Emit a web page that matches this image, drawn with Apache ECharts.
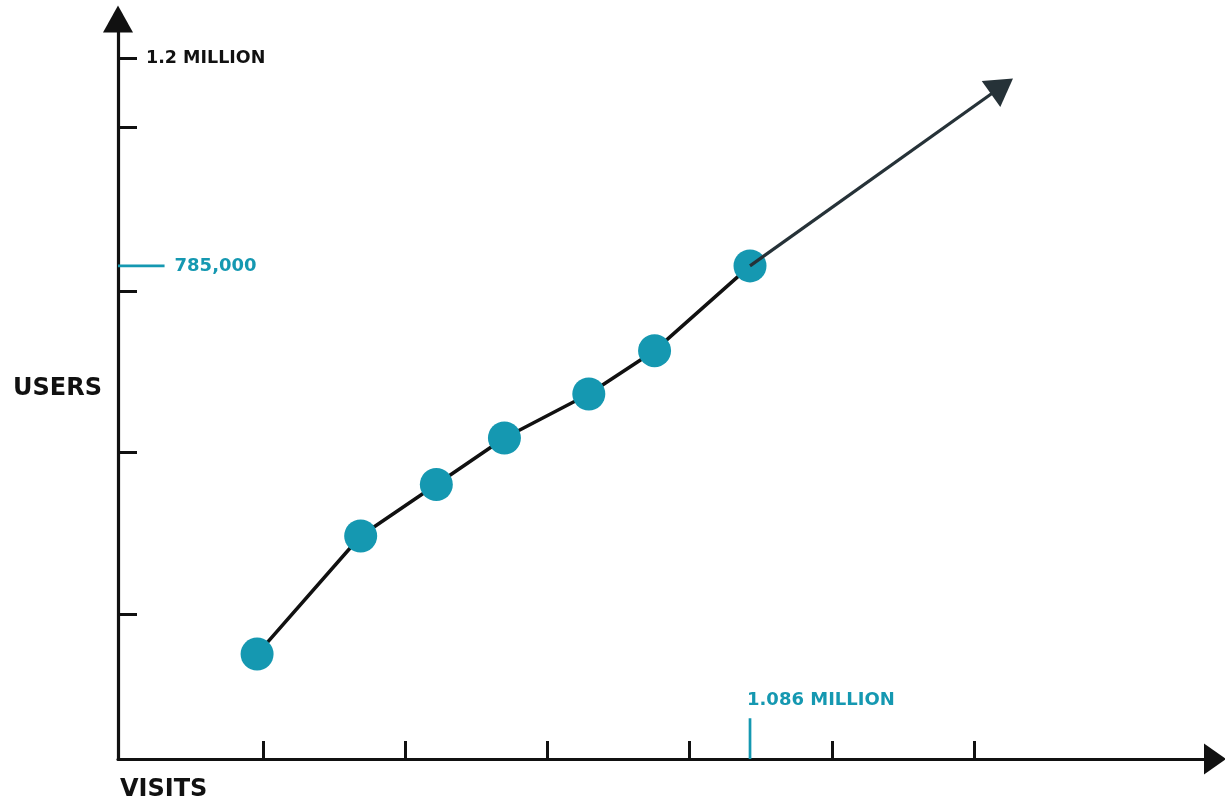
<!DOCTYPE html>
<html>
<head>
<meta charset="utf-8">
<title>Users vs Visits</title>
<script src="https://cdn.jsdelivr.net/npm/echarts@6/dist/echarts.min.js"></script>
<style>
  html, body { margin: 0; padding: 0; background: #ffffff; }
  #chart { width: 1225px; height: 801px; }
</style>
</head>
<body>
<div id="chart"></div>
<script>
// ---- data (thousands) ----
const visits = [239, 417, 547, 664, 809, 922, 1086];
const users  = [167, 355, 437, 511, 581, 650, 785];
const trendEnd = [1519, 1071];           // end of the growth arrow
const xTicks = [249, 493, 737, 982, 1227, 1471];
const yTicks = [230, 488, 745, 1005, 1115];
const yLabelValues = [1115];
const yLabelTexts = ['1.2 MILLION'];
const usersMark = 785;   const usersMarkText = '785,000';
const visitsMark = 1086; const visitsMarkText = '1.086 MILLION';
const usersMarkLen = 80;  const visitsMarkLen = 65;
const xMax = 1885; const yMax = 1178;

const TEAL = '#1598b1';
const INK = '#111111';
const FONT = 'DejaVu Sans';

const chart = echarts.init(document.getElementById('chart'));
const points = visits.map((v, i) => [v, users[i]]);

chart.setOption({
  animation: false,
  backgroundColor: '#ffffff',
  grid: { left: 118, right: 10, top: 19, bottom: 42, containLabel: false, outerBoundsMode: 'none' },
  xAxis: {
    type: 'value', min: 0, max: xMax,
    name: 'VISITS', nameLocation: 'start', nameGap: -2, nameMoveOverlap: false,
    nameTextStyle: { fontFamily: FONT, fontWeight: 'bold', fontSize: 24, color: INK, align: 'left', verticalAlign: 'top', padding: [19, 0, 0, 0] },
    splitLine: { show: false },
    axisLine: { show: true, onZero: false, symbol: ['none', 'triangle'], symbolSize: [31, 22], lineStyle: { color: INK, width: 3.2 } },
    axisTick: { show: true, inside: true, length: 18, customValues: xTicks, lineStyle: { color: INK, width: 3 } },
    axisLabel: { show: false }
  },
  yAxis: {
    type: 'value', min: 0, max: yMax,
    name: 'USERS', nameLocation: 'middle', nameGap: 16, nameRotate: 0, nameMoveOverlap: false,
    nameTextStyle: { fontFamily: FONT, fontWeight: 'bold', fontSize: 24, color: INK, align: 'right', verticalAlign: 'middle', padding: [0, 0, 23, 0] },
    splitLine: { show: false },
    axisLine: { show: true, onZero: false, symbol: ['none', 'triangle'], symbolSize: [30, 27], lineStyle: { color: INK, width: 3.2 } },
    axisTick: { show: true, inside: true, length: 19, customValues: yTicks, lineStyle: { color: INK, width: 3 } },
    axisLabel: {
      show: true, inside: true, margin: 28, customValues: yLabelValues,
      fontFamily: FONT, fontWeight: 'bold', fontSize: 17.5, color: INK,
      formatter: (v) => { const i = yLabelValues.indexOf(v); return i >= 0 ? yLabelTexts[i] : ''; }
    }
  },
  series: [
    {
      name: 'trend', type: 'line', z: 1, silent: true,
      data: [[visits[visits.length - 1], users[users.length - 1]]],
      symbol: 'none', lineStyle: { width: 0 },
      markLine: {
        silent: true, animation: false,
        symbol: ['none', 'triangle'], symbolSize: [32, 27],
        lineStyle: { color: '#263238', width: 3.2, type: 'solid' },
        itemStyle: { color: '#263238' },
        label: { show: false },
        emphasis: { disabled: true },
        data: [[
          { coord: [visits[visits.length - 1], users[users.length - 1]], symbol: 'none' },
          { coord: trendEnd, symbol: 'triangle' }
        ]]
      }
    },
    {
      name: 'usersMark', type: 'line', z: 2, silent: true,
      data: [[0, usersMark], { value: [usersMarkLen, usersMark], label: { show: true } }],
      symbol: 'circle', symbolSize: 0,
      lineStyle: { color: TEAL, width: 2.7 },
      itemStyle: { color: TEAL },
      label: { show: false, position: 'right', distance: 10, formatter: usersMarkText,
               fontFamily: FONT, fontWeight: 'bold', fontSize: 18, color: TEAL }
    },
    {
      name: 'visitsMark', type: 'line', z: 2, silent: true,
      data: [[visitsMark, 0], { value: [visitsMark, visitsMarkLen], label: { show: true } }],
      symbol: 'circle', symbolSize: 0,
      lineStyle: { color: TEAL, width: 2.7 },
      itemStyle: { color: TEAL },
      label: { show: false, position: 'top', distance: 9, align: 'left', offset: [-3, 0], formatter: visitsMarkText,
               fontFamily: FONT, fontWeight: 'bold', fontSize: 18, color: TEAL }
    },
    {
      name: 'users', type: 'line', z: 3, silent: true,
      data: points,
      symbol: 'circle', symbolSize: 33,
      lineStyle: { color: INK, width: 3.5 },
      itemStyle: { color: TEAL, borderWidth: 0 },
      label: { show: false }
    }
  ]
});
</script>
</body>
</html>
